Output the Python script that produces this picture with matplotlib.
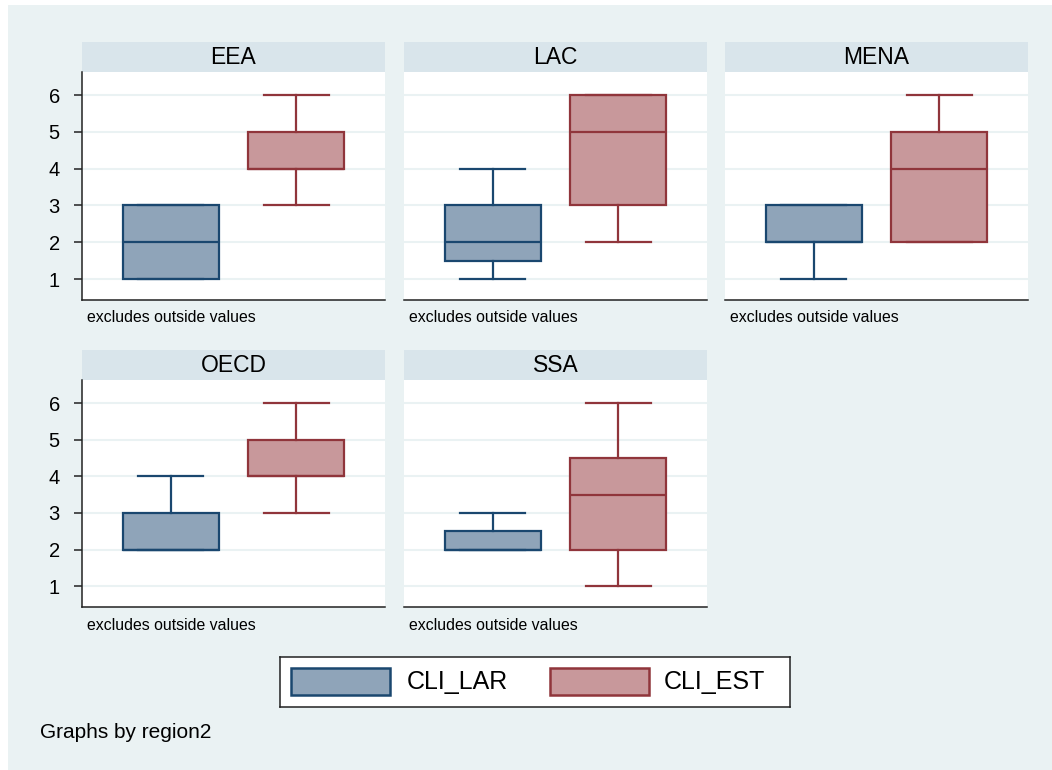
import matplotlib
matplotlib.use("Agg")
import matplotlib.pyplot as plt
from matplotlib.patches import Rectangle

plt.rcParams['font.family'] = ['Liberation Sans', 'DejaVu Sans']

# ---- data ----
regions = ["EEA", "LAC", "MENA", "OECD", "SSA"]
series = ["CLI_LAR", "CLI_EST"]
# (whislo, q1, med, q3, whishi)
lar_stats = {
    "EEA":  (1, 1, 2, 3, 3),
    "LAC":  (1, 1.5, 2, 3, 4),
    "MENA": (1, 2, 2, 3, 3),
    "OECD": (2, 2, 2, 3, 4),
    "SSA":  (2, 2, 2, 2.5, 3),
}
est_stats = {
    "EEA":  (3, 4, 4, 5, 6),
    "LAC":  (2, 3, 5, 6, 6),
    "MENA": (2, 2, 4, 5, 6),
    "OECD": (3, 4, 4, 5, 6),
    "SSA":  (1, 2, 3.5, 4.5, 6),
}
yticks = [1, 2, 3, 4, 5, 6]
note = "excludes outside values"
byline = "Graphs by region2"

# ---- styles ----
W, H = 1052, 770
BG = "#EAF2F3"
STRIP = "#D9E5EB"
AXC = "#222222"
edge_cols = ["#1A476F", "#90353B"]
fill_cols = ["#8FA4B9", "#C8989B"]

fig = plt.figure(figsize=(W / 100, H / 100), dpi=100)
fig.patch.set_facecolor("white")
bg = fig.add_axes([8 / W, 0, 1 - 8 / W, 1 - 5 / H])
bg.set_facecolor(BG)
bg.set_xticks([]); bg.set_yticks([])
for s in bg.spines.values():
    s.set_visible(False)
bg.set_zorder(-10)

col_x = [82, 404, 725]
pw = 303
rows = [(42, 72, 300), (350, 380, 607)]  # strip top, plot top, plot bottom


def fx(x):
    return x / W


def fy(y):
    return 1 - y / H


for i, reg in enumerate(regions):
    r, c = divmod(i, 3)
    st, pt, pb = rows[r]
    x0 = col_x[c]
    sax = fig.add_axes([fx(x0), fy(pt), pw / W, (pt - st) / H])
    sax.set_facecolor(STRIP)
    sax.set_xticks([]); sax.set_yticks([])
    for s in sax.spines.values():
        s.set_visible(False)
    sax.text(0.5, 0.47, reg, ha="center", va="center", fontsize=16.5,
             transform=sax.transAxes)

    ax = fig.add_axes([fx(x0), fy(pb), pw / W, (pb - pt) / H])
    ax.set_facecolor("white")
    for k, d in enumerate([lar_stats, est_stats]):
        wl, q1, med, q3, wh = d[reg]
        st_k = dict(whislo=wl, q1=q1, med=med, q3=q3, whishi=wh,
                    fliers=[], label=series[k])
        ax.bxp([st_k], positions=[k + 1], widths=0.763, capwidths=0.52,
               patch_artist=True, showfliers=False,
               boxprops=dict(facecolor=fill_cols[k], edgecolor=edge_cols[k], linewidth=1.6),
               medianprops=dict(color=edge_cols[k], linewidth=1.6),
               whiskerprops=dict(color=edge_cols[k], linewidth=1.6),
               capprops=dict(color=edge_cols[k], linewidth=1.6),
               manage_ticks=False, zorder=3)
    ax.set_xlim(0.292, 2.707)
    ax.set_ylim(0.43, 6.63)
    ax.set_yticks(yticks)
    ax.set_xticks([])
    ax.grid(axis="y", color=BG, linewidth=1.5, zorder=1)
    ax.set_axisbelow(True)
    for s in ["top", "right"]:
        ax.spines[s].set_visible(False)
    ax.spines["bottom"].set_color(AXC)
    ax.spines["bottom"].set_linewidth(1.1)
    if c == 0:
        ax.set_yticklabels([str(t) for t in yticks])
        ax.tick_params(axis="y", length=6, width=1.1, pad=10, labelsize=14.5, color=AXC)
        ax.spines["left"].set_color(AXC)
        ax.spines["left"].set_linewidth(1.1)
    else:
        ax.tick_params(axis="y", length=0, labelleft=False)
        ax.spines["left"].set_visible(False)
    fig.text(fx(x0 + 5), fy(pb + 18), note, ha="left", va="center", fontsize=11.4)

# legend (manual box, pixel layout)
lx0, ly0, lx1, ly1 = 280, 657, 790, 707
lax = fig.add_axes([fx(lx0), fy(ly1), (lx1 - lx0) / W, (ly1 - ly0) / H])
lax.set_xlim(0, lx1 - lx0)
lax.set_ylim(ly1 - ly0, 0)
lax.set_facecolor("white")
lax.set_xticks([]); lax.set_yticks([])
for s in lax.spines.values():
    s.set_color(AXC)
    s.set_linewidth(1.1)
key_x = [11, 270]
txt_x = [127, 384]
for k in range(2):
    lax.add_patch(Rectangle((key_x[k], 11), 99, 27, facecolor=fill_cols[k],
                            edgecolor=edge_cols[k], linewidth=1.8))
    lax.text(txt_x[k], 25.5, series[k], ha="left", va="center", fontsize=18)

fig.text(fx(40), fy(732), byline, ha="left", va="center", fontsize=15)

fig.savefig("out.png", dpi=100, facecolor=fig.get_facecolor())
